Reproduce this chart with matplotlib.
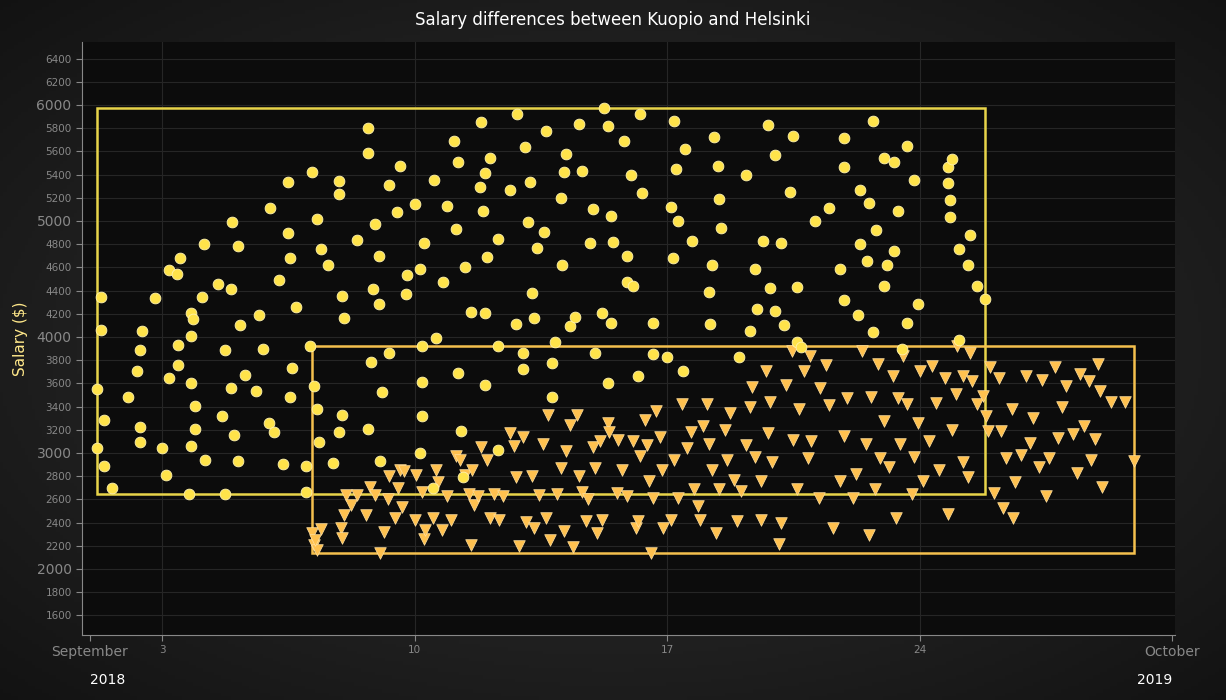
import matplotlib
matplotlib.use("Agg")
import matplotlib.pyplot as plt
from matplotlib.patches import Rectangle
import numpy as np

# Kuopio (circles): (days after 1 Sept 2018, salary $)
kuopio = [(0.2,3550),(0.2,3040),(0.3,4060),(0.3,4345),(0.4,3285),(0.4,2890),(0.6,2700),(1.05,3480),(1.3,3710),(1.4,3890),(1.45,4050),(1.4,3220),(1.4,3090),(1.8,4335),(2.0,3045),(2.1,2810),(2.2,4580),(2.2,3650),(2.4,4540),(2.45,3930),(2.45,3760),(2.5,4680),(2.8,4210),(2.8,4010),(2.8,3600),(2.85,4155),(2.9,3405),(2.9,3210),(2.8,3060),(2.75,2650),(3.1,4345),(3.15,4800),(3.2,2940),(3.55,4460),(3.65,3320),(3.75,3890),(3.75,2650),(3.9,3560),(3.9,4410),(3.95,4990),(4.0,3155),(4.1,4785),(4.1,2930),(4.15,4105),(4.3,3670),(4.6,3535),(4.7,4190),(4.8,3900),(4.95,3260),(5.0,5110),(5.1,3180),(5.25,4490),(5.35,2905),(5.5,5335),(5.5,4900),(5.55,3480),(5.55,4680),(5.6,3730),(5.7,4260),(6.0,2665),(6.0,2890),(6.15,5420),(6.1,3920),(6.2,3580),(6.3,5020),(6.3,3380),(6.35,3095),(6.4,4760),(6.6,4620),(6.75,2915),(6.9,5235),(6.9,5345),(7.0,4350),(7.05,4165),(7.0,3330),(6.9,3180),(7.4,4840),(7.7,5800),(7.7,5585),(7.85,4410),(7.8,3785),(7.7,3205),(8.0,4700),(8.0,4285),(7.9,4975),(8.1,3525),(8.05,2930),(8.3,3860),(8.3,5310),(8.5,5080),(8.6,5475),(8.75,4370),(8.8,4535),(9.0,5150),(9.15,4590),(9.2,3920),(9.2,3610),(9.2,3320),(9.15,3000),(9.25,4810),(9.5,2700),(9.6,3990),(9.55,5355),(9.8,4475),(9.9,5130),(10.1,5690),(10.15,4930),(10.2,3690),(10.2,5510),(10.3,3190),(10.35,2790),(10.4,4600),(10.55,4215),(10.8,5295),(10.85,5855),(10.95,5410),(10.9,5085),(10.95,4210),(11.0,4690),(10.95,3585),(11.1,5545),(11.3,4845),(11.3,3920),(11.3,3025),(11.65,5265),(11.8,4110),(11.85,5920),(12.0,3725),(12.0,3860),(12.05,5640),(12.15,4990),(12.2,5335),(12.25,4380),(12.3,4165),(12.4,4765),(12.6,4905),(12.65,5775),(12.8,3775),(12.8,3480),(12.9,3955),(13.05,5200),(13.1,4620),(13.15,5420),(13.2,5575),(13.3,4095),(13.45,4170),(13.55,5835),(13.65,5430),(13.95,5100),(13.85,4810),(14.0,3860),(14.25,5975),(14.2,4210),(14.35,3605),(14.35,5820),(14.45,5040),(14.45,4120),(14.5,4820),(14.8,5690),(14.9,4700),(14.9,4470),(15.05,4440),(15.0,5400),(15.2,3665),(15.25,5920),(15.3,5240),(15.6,4120),(15.6,3850),(16.0,3830),(16.15,4680),(16.2,5860),(16.25,5445),(16.3,5000),(16.1,5120),(16.5,5620),(16.45,3710),(16.7,4830),(17.15,4390),(17.2,4110),(17.25,4620),(17.3,5725),(17.4,5475),(17.45,5190),(17.5,4935),(18.0,3830),(18.2,5400),(18.3,4050),(18.45,4585),(18.5,4240),(18.65,4830),(18.8,5830),(19.0,5570),(19.0,4220),(18.85,4420),(19.15,4810),(19.25,4100),(19.4,5250),(19.5,5735),(19.6,4430),(19.6,3955),(19.7,3910),(20.1,5000),(20.5,5110),(20.8,4590),(20.9,5465),(20.9,5715),(20.9,4320),(21.3,4190),(21.35,5265),(21.35,4800),(21.55,4655),(21.7,5860),(21.8,4920),(21.7,4040),(21.6,5155),(22.0,4440),(22.0,5540),(22.1,4620),(22.3,5510),(22.3,4740),(22.4,5085),(22.5,3900),(22.65,4120),(22.65,5645),(22.85,5355),(22.95,4285),(23.8,5465),(23.8,5330),(23.9,5530),(23.85,5185),(23.85,5035),(24.1,4760),(24.4,4880),(24.35,4620),(24.6,4440),(24.8,4330),(24.1,3970)]

# Helsinki (triangles): (days after 1 Sept 2018, salary $)
helsinki = [(6.15,2310),(6.2,2210),(6.3,2165),(6.4,2340),(6.25,2250),(6.95,2350),(7.0,2270),(7.05,2465),(7.1,2640),(7.25,2550),(7.4,2640),(7.65,2465),(7.75,2710),(7.9,2640),(8.05,2140),(8.15,2320),(8.25,2600),(8.3,2800),(8.45,2440),(8.55,2700),(8.6,2855),(8.7,2840),(8.65,2535),(9.0,2425),(9.05,2810),(9.2,2665),(9.25,2260),(9.3,2335),(9.5,2440),(9.6,2850),(9.65,2750),(9.75,2335),(9.9,2630),(10.0,2425),(10.15,2975),(10.25,2940),(10.4,2810),(10.5,2645),(10.55,2210),(10.65,2550),(10.6,2855),(10.75,2630),(10.85,3055),(11.0,2940),(11.1,2440),(11.2,2645),(11.35,2425),(11.45,2630),(11.65,3170),(11.75,3060),(11.8,2795),(11.9,2200),(12.0,3140),(12.1,2405),(12.25,2800),(12.3,2355),(12.45,2640),(12.55,3075),(12.65,2435),(12.7,3330),(12.75,2250),(12.95,2645),(13.05,2870),(13.15,2330),(13.2,3020),(13.3,3245),(13.4,2190),(13.5,3330),(13.55,2800),(13.65,2665),(13.75,2415),(13.8,2600),(13.95,3055),(14.0,2870),(14.05,2310),(14.15,3105),(14.2,2425),(14.35,3260),(14.4,3180),(14.6,2655),(14.65,3115),(14.75,2855),(14.9,2630),(15.05,3105),(15.15,2355),(15.2,2415),(15.25,2975),(15.4,3285),(15.45,3070),(15.5,2760),(15.55,2140),(15.6,2615),(15.7,3365),(15.8,3140),(15.85,2855),(15.9,2355),(16.1,2425),(16.2,2940),(16.3,2610),(16.4,3425),(16.55,3040),(16.65,3180),(16.75,2690),(16.85,2545),(16.9,2425),(17.0,3235),(17.1,3425),(17.15,3075),(17.25,2855),(17.35,2310),(17.45,2690),(17.6,3195),(17.65,2940),(17.75,3340),(17.85,2765),(17.95,2415),(18.05,2675),(18.2,3065),(18.3,3400),(18.35,3570),(18.45,2965),(18.6,2425),(18.6,2760),(18.75,3705),(18.8,3170),(18.85,3440),(18.9,2920),(19.1,2215),(19.15,2395),(19.3,3585),(19.45,3880),(19.5,3115),(19.6,2690),(19.65,3380),(19.8,3705),(19.9,2955),(19.95,3835),(20.0,3105),(20.2,2610),(20.25,3560),(20.4,3755),(20.5,3415),(20.6,2355),(20.8,2760),(20.9,3145),(21.0,3475),(21.15,2610),(21.25,2820),(21.4,3880),(21.5,3080),(21.6,2290),(21.65,3480),(21.75,2690),(21.85,3765),(21.9,2955),(22.0,3275),(22.15,2875),(22.25,3660),(22.35,2435),(22.4,3475),(22.45,3075),(22.55,3835),(22.65,3425),(22.8,2645),(22.85,2965),(22.95,3260),(23.0,3705),(23.1,2760),(23.25,3105),(23.35,3750),(23.45,3430),(23.55,2855),(23.7,3645),(23.8,2475),(23.9,3195),(24.0,3505),(24.05,3920),(24.2,3660),(24.2,2920),(24.35,2795),(24.4,3860),(24.45,3620),(24.6,3425),(24.75,3495),(24.85,3320),(24.9,3190),(24.95,3745),(25.05,2655),(25.2,3645),(25.25,3190),(25.3,2525),(25.4,2955),(25.55,3380),(25.6,2435),(25.65,2750),(25.8,2980),(25.95,3660),(26.05,3085),(26.15,3300),(26.3,2875),(26.4,3630),(26.5,2630),(26.6,2955),(26.75,3740),(26.85,3130),(26.95,3400),(27.05,3580),(27.25,3160),(27.35,2830),(27.45,3680),(27.55,3235),(27.7,3620),(27.75,2940),(27.85,3120),(27.95,3765),(28.0,3530),(28.05,2710),(28.3,3440),(28.7,3440),(28.95,2930)]

x_ticks = [0, 2, 9, 16, 23, 30]
x_labels = ["September", "3", "10", "17", "24", "October"]
year_labels = ["2018", "2019"]

BG = "#1a1a1a"
fig = plt.figure(figsize=(12.26, 7), dpi=100, facecolor=BG)
bg = fig.add_axes([0, 0, 1, 1], zorder=-5)
yy, xx = np.mgrid[-1:1:200j, -1:1:350j]
r = np.sqrt(xx**2 + yy**2)
bg.imshow(np.clip(0.20 - 0.09 * r, 0, 1), cmap="gray", vmin=0, vmax=1, aspect="auto", extent=[0, 1, 0, 1])
bg.axis("off")

ax = fig.add_axes([0.0669, 0.093, 0.8915, 0.847])
ax.set_facecolor("#0c0c0c")
ax.set_xlim(-0.22, 30.08)
ax.set_ylim(1431, 6543)

for v in range(1600, 6500, 200):
    ax.axhline(v, color="#262626", lw=0.8, zorder=0)
for d in [2, 9, 16, 23]:
    ax.axvline(d, color="#262626", lw=0.8, zorder=0)

kx = np.array([p[0] for p in kuopio]); ky = np.array([p[1] for p in kuopio])
hx = np.array([p[0] for p in helsinki]); hy = np.array([p[1] for p in helsinki])

ycol = "#ffe34a"; ocol = "#ffc14f"
ax.add_patch(Rectangle((kx.min(), ky.min()), kx.max() - kx.min(), ky.max() - ky.min(),
                       fill=False, ec="#e8d44a", lw=1.8, zorder=2))
ax.add_patch(Rectangle((hx.min(), hy.min()), hx.max() - hx.min(), hy.max() - hy.min(),
                       fill=False, ec="#f5c04e", lw=1.8, zorder=2))
ax.scatter(hx, hy, marker="v", s=70, c=ocol, edgecolors="#ffe0a0", linewidths=0.5, zorder=3)
ax.scatter(kx, ky, marker="o", s=60, c=ycol, edgecolors="#fff3b0", linewidths=0.6, zorder=4)

ax.set_yticks(range(1600, 6500, 200))
ax.set_yticklabels([str(v) for v in range(1600, 6500, 200)])
for lab, v in zip(ax.get_yticklabels(), range(1600, 6500, 200)):
    if v % 1000 == 0:
        lab.set_fontsize(10); lab.set_color("#ffffff")
    else:
        lab.set_fontsize(7.5); lab.set_color("#bbbbbb")
ax.set_xticks(x_ticks)
ax.set_xticklabels(x_labels)
for lab, d in zip(ax.get_xticklabels(), x_ticks):
    if d in (0, 30):
        lab.set_fontsize(10); lab.set_color("#ffffff")
    else:
        lab.set_fontsize(7.5); lab.set_color("#bbbbbb")
ax.tick_params(axis="both", colors="#888888", length=4)
for sp in ["left", "bottom"]:
    ax.spines[sp].set_color("#888888")
for sp in ["top", "right"]:
    ax.spines[sp].set_visible(False)

fig.text(90 / 1226, 1 - 680 / 700, year_labels[0], fontsize=10, color="white", ha="left", va="center")
fig.text(1172 / 1226, 1 - 680 / 700, year_labels[1], fontsize=10, color="white", ha="right", va="center")
ax.set_ylabel("Salary ($)", color="#ffe88a", fontsize=11, labelpad=6)
fig.text(0.5, 1 - 20 / 700, "Salary differences between Kuopio and Helsinki", color="white",
         fontsize=12, ha="center", va="center")
fig.savefig("out.png", dpi=100, facecolor=BG)
